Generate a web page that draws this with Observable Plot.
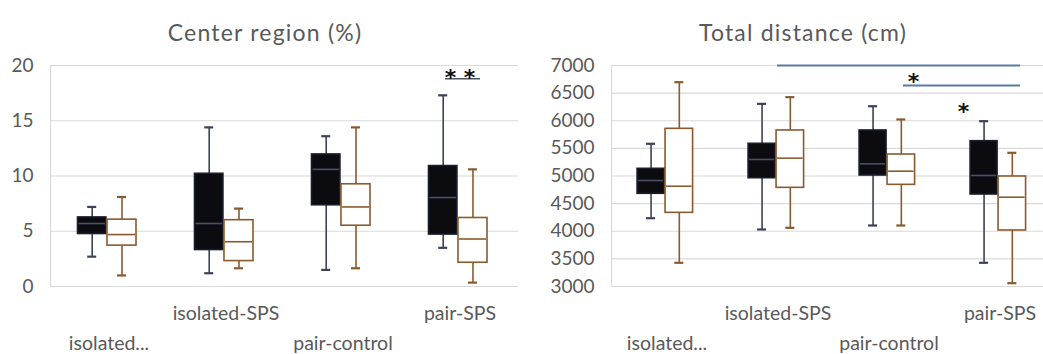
<!DOCTYPE html>
<html><head><meta charset="utf-8">
<script src="https://cdn.jsdelivr.net/npm/d3@7"></script>
<script src="https://cdn.jsdelivr.net/npm/@observablehq/plot@0.6"></script>
<style>
body{margin:0;background:#fff;}
#wrap{position:relative;width:1043px;height:354px;overflow:hidden;background:#fff;font-family:Lato,sans-serif;}
.title{position:absolute;top:19px;font-size:23px;letter-spacing:1.2px;color:#595959;transform:translateX(-50%);white-space:nowrap;line-height:26px;}
.panel{position:absolute;top:0;}
.panel svg{max-width:none !important;}
</style></head><body>
<div id="wrap">
<div class="title" style="left:265px">Center region (%)</div>
<div class="title" style="left:803px">Total distance (cm)</div>
<div id="left" class="panel" style="left:0px;width:530px"></div>
<div id="right" class="panel" style="left:540px;width:520px"></div>
</div>
<script>
// ---- data ----
const categories = ["isolated-control", "isolated-SPS", "pair-control", "pair-SPS"];
const categoryLabels = ["isolated...", "isolated-SPS", "pair-control", "pair-SPS"];
const seriesNames = ["filled", "open"];
// five-number summaries: [min, q1, median, q3, max]
const centerFilled = [[2.7, 4.75, 5.7, 6.25, 7.2], [1.2, 3.3, 5.7, 10.2, 14.4], [1.5, 7.35, 10.6, 11.95, 13.6], [3.5, 4.7, 8.05, 10.9, 17.3]];
const centerOpen   = [[1.0, 3.7, 4.7, 6.05, 8.1], [1.65, 2.3, 4.05, 6.0, 7.05], [1.65, 5.5, 7.2, 9.25, 14.4], [0.35, 2.15, 4.3, 6.2, 10.6]];
const distanceFilled = [[4236, 4678, 4918, 5130, 5583], [4032, 4960, 5299, 5583, 6306], [4104, 5009, 5220, 5824, 6263], [3429, 4665, 5009, 5630, 5992]];
const distanceOpen   = [[3429, 4333, 4815, 5854, 6698], [4062, 4786, 5323, 5824, 6427], [4104, 4840, 5087, 5389, 6023], [3060, 4014, 4616, 4991, 5420]];
const centerTicks = [0, 5, 10, 15, 20];
const distanceTicks = [3000, 3500, 4000, 4500, 5000, 5500, 6000, 6500, 7000];
// significance annotations
const centerSigLines = [{from: "pair-SPS", to: "pair-SPS", y: 18.8}];
const centerSigStars = [{cat: "pair-SPS", y: 19.3, text: "* *"}];
const distanceSigLines = [{from: "isolated-SPS", to: "pair-SPS", y: 7000}, {from: "pair-control", to: "pair-SPS", y: 6638}];
const distanceSigStars = [{cat: "pair-control", y: 6800, text: "*"}, {cat: "pair-SPS", y: 6245, text: "*"}];

function rowsOf(arr, series) {
  return arr.map((s, i) => ({cat: categories[i], series, min: s[0], q1: s[1], med: s[2], q3: s[3], max: s[4]}));
}

const TEXT = "#595959";
const FILL_DARK = "#0b0b10", STROKE_DARK = "#1a1d2b", WHISK_DARK = "#3b4258", MED_DARK = "#4a5166";
const BROWN = "#8a5a2e";

function boxMarks(rows, bw, f0, f1, colors) {
  const insL = bw * f0, insR = bw * (1 - f1);
  const center = (f0 + f1) / 2;
  const dx = (center - 0.5) * bw;
  const capL = center * bw - 4.5, capR = bw - center * bw - 4.5;
  return [
    Plot.ruleX(rows, {x: "cat", y1: "min", y2: "max", dx, stroke: colors.whisker, strokeWidth: 1.6}),
    Plot.tickY(rows, {x: "cat", y: "min", insetLeft: capL, insetRight: capR, stroke: colors.whisker, strokeWidth: 2.2}),
    Plot.tickY(rows, {x: "cat", y: "max", insetLeft: capL, insetRight: capR, stroke: colors.whisker, strokeWidth: 2.2}),
    Plot.barY(rows, {x: "cat", y1: "q1", y2: "q3", insetLeft: insL, insetRight: insR, fill: colors.fill, stroke: colors.stroke, strokeWidth: 1.6}),
    Plot.tickY(rows, {x: "cat", y: "med", insetLeft: insL + 1, insetRight: insR + 1, stroke: colors.median, strokeWidth: 1.6})
  ];
}

function panel(opts) {
  const bw = (opts.width - opts.marginLeft - opts.marginRight) / categories.length;
  const fr = rowsOf(opts.filled, seriesNames[0]);
  const op = rowsOf(opts.open, seriesNames[1]);
  const ticks = opts.ticks;
  return Plot.plot({
    width: opts.width, height: 354,
    marginLeft: opts.marginLeft, marginRight: opts.marginRight, marginTop: 65, marginBottom: 68,
    style: {fontFamily: "Lato, sans-serif", fontSize: "19px", color: TEXT, background: "transparent", overflow: "visible"},
    x: {domain: categories, padding: 0, axis: null},
    y: {domain: [ticks[0], ticks[ticks.length - 1]], ticks, tickFormat: d3.format("d"), tickSize: 0, tickPadding: 17, label: null},
    marks: [
      Plot.ruleY(ticks, {stroke: "#d9d9d9", strokeWidth: 1.2}),
      Plot.ruleX([categories[0]], {x: d => d, dx: -bw / 2, stroke: "#d9d9d9", strokeWidth: 1.2}),
      ...boxMarks(fr, bw, 0.235, 0.478, {fill: FILL_DARK, stroke: STROKE_DARK, whisker: WHISK_DARK, median: MED_DARK}),
      ...boxMarks(op, bw, 0.487, 0.735, {fill: "#ffffff", stroke: BROWN, whisker: BROWN, median: BROWN}),
      ...opts.sigLines.map((l, i) => Plot.ruleY([l], {x1: "from", x2: "to", y: "y", insetLeft: opts.lineInsets[i][0], insetRight: opts.lineInsets[i][1], stroke: opts.lineColor, strokeWidth: opts.lineWidth})),
      Plot.text(categories.filter((d, i) => i % 2 === 1), {x: d => d, text: d => categoryLabels[categories.indexOf(d)], frameAnchor: "bottom", dy: 27, lineAnchor: "middle", fontSize: 19.5, fill: TEXT}),
      Plot.text(categories.filter((d, i) => i % 2 === 0), {x: d => d, text: d => categoryLabels[categories.indexOf(d)], frameAnchor: "bottom", dy: 57, lineAnchor: "middle", fontSize: 19.5, fill: TEXT}),
      ...opts.sigStars.map((s, i) => Plot.text([s], {x: "cat", y: "y", text: "text", dx: opts.starDx[i], dy: 5, lineAnchor: "middle", fontSize: 22, fontWeight: "bold", fontFamily: "DejaVu Sans", fill: "#111"}))
    ]
  });
}

document.getElementById("left").append(panel({
  filled: centerFilled, open: centerOpen, ticks: centerTicks,
  width: 530, marginLeft: 50, marginRight: 12,
  sigLines: centerSigLines, lineInsets: [[44, 38]], lineColor: "#4d5566", lineWidth: 1.6,
  sigStars: centerSigStars, starDx: [0]
}));
document.getElementById("right").append(panel({
  filled: distanceFilled, open: distanceOpen, ticks: distanceTicks,
  width: 520, marginLeft: 71, marginRight: 5,
  sigLines: distanceSigLines, lineInsets: [[55, 35], [70, 35]], lineColor: "#5a7aa3", lineWidth: 2,
  sigStars: distanceSigStars, starDx: [24.5, -36.5]
}));
</script>
</body></html>
